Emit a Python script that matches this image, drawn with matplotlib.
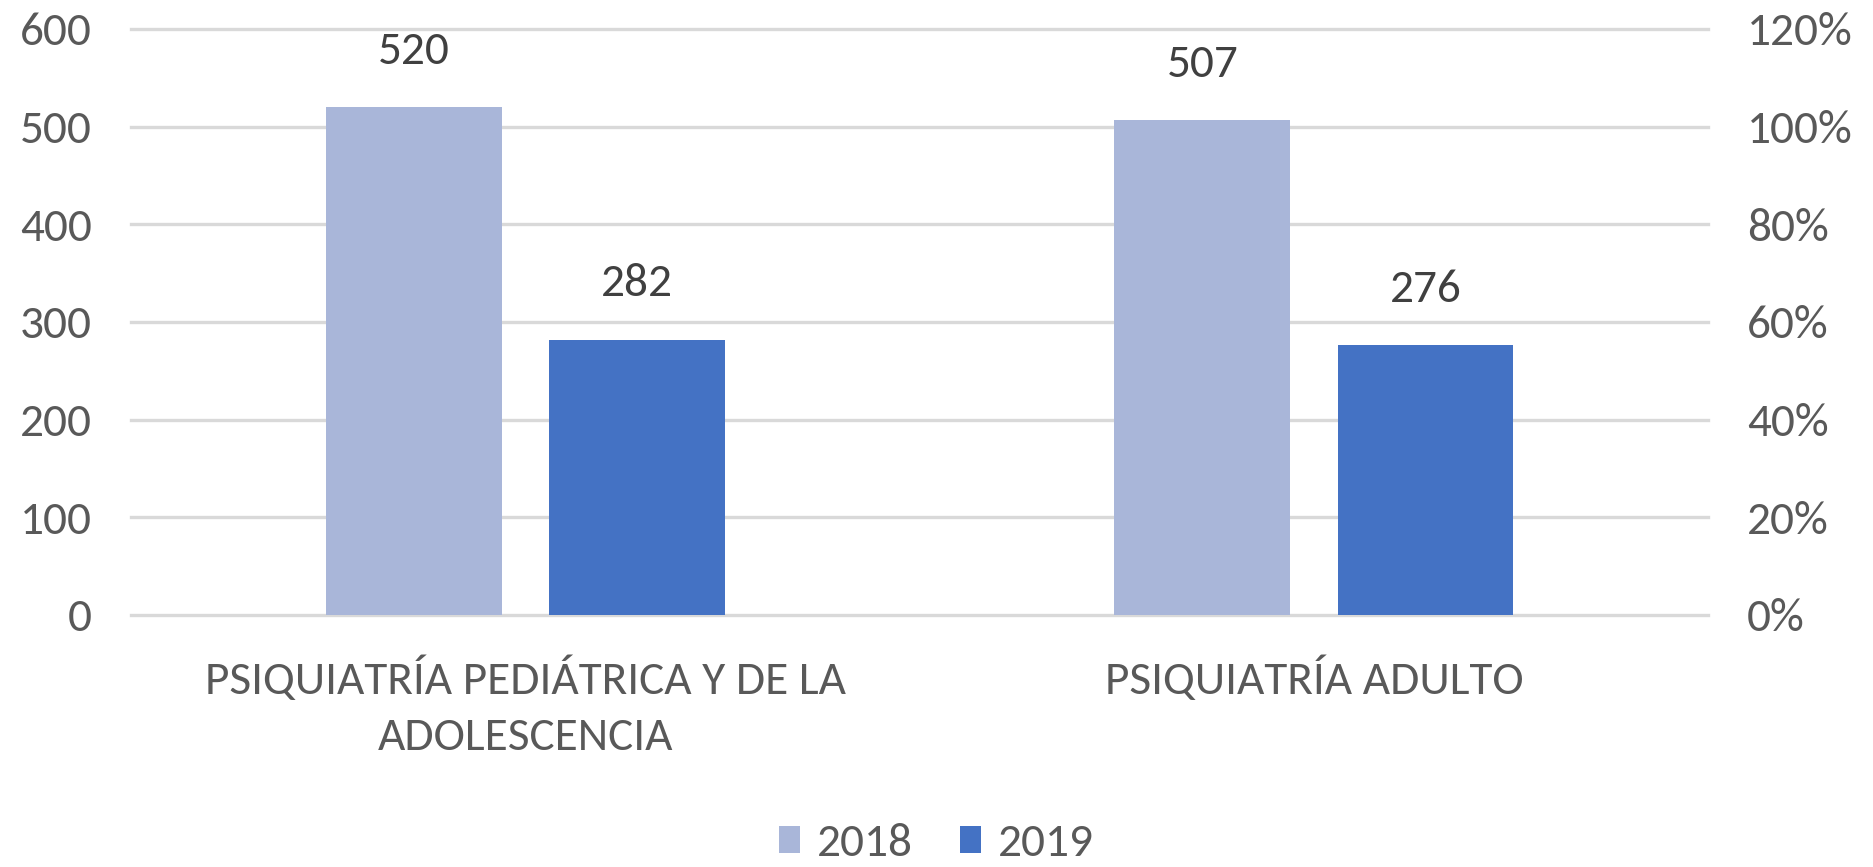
import numpy as np
import matplotlib; matplotlib.use('Agg')
import matplotlib.pyplot as plt
from matplotlib.ticker import PercentFormatter

plt.rcParams['font.family'] = ['Carlito', 'Liberation Sans', 'DejaVu Sans']

categories = ['PSIQUIATRÍA PEDIÁTRICA Y DE LA\nADOLESCENCIA', 'PSIQUIATRÍA ADULTO']
series = ['2018', '2019']
vals_2018 = [520, 507]
vals_2019 = [282, 276]
left_ticks = [0, 100, 200, 300, 400, 500, 600]
right_ticks = [0, 0.2, 0.4, 0.6, 0.8, 1.0, 1.2]

C18 = '#A9B6D9'; C19 = '#4472C4'; TXT = '#595959'; GRID = '#D9D9D9'
FS = 34

fig = plt.figure(figsize=(18.73, 8.67), dpi=100)
ax = fig.add_axes([0.070, 0.2907, 0.842, 0.6759])
x = np.arange(len(categories)); w = 0.223; off = 0.1415
b1 = ax.bar(x - off, vals_2018, w, color=C18, label=series[0], zorder=2)
b2 = ax.bar(x + off, vals_2019, w, color=C19, label=series[1], zorder=2)
for bars in (b1, b2):
    for r in bars:
        ax.annotate(f'{int(r.get_height())}', (r.get_x() + r.get_width() / 2, r.get_height()),
                    xytext=(0, 40), textcoords='offset points', ha='center', va='center',
                    fontsize=FS, color='#404040')

ax.set_xlim(-0.5, 1.5); ax.set_ylim(0, 600)
ax.set_yticks(left_ticks)
ax.yaxis.grid(True, color=GRID, linewidth=2.4, zorder=0)
for gl in ax.get_ygridlines():
    gl.set_clip_on(False)
ax.set_axisbelow(True)
for s in ax.spines.values():
    s.set_visible(False)
ax.set_xticks(x)
ax.set_xticklabels(categories, fontsize=FS, color=TXT, linespacing=1.45)
ax.tick_params(axis='x', length=0, pad=30)
ax.tick_params(axis='y', length=0, pad=28, labelsize=FS, labelcolor=TXT)

ax2 = ax.twinx()
ax2.set_ylim(0, 1.2)
ax2.set_yticks(right_ticks)
ax2.yaxis.set_major_formatter(PercentFormatter(1.0, decimals=0))
for s in ax2.spines.values():
    s.set_visible(False)
ax2.tick_params(axis='y', length=0, pad=28, labelsize=FS, labelcolor=TXT)

fig.legend(handles=[b1, b2], labels=series, loc='center', bbox_to_anchor=(0.5, 0.027), ncol=2,
           frameon=False, fontsize=FS, labelcolor=TXT, handlelength=0.45, handleheight=0.5,
           handletextpad=0.35, columnspacing=1.0, borderpad=0.2)

plt.savefig('out.png', dpi=100)
plt.close()
